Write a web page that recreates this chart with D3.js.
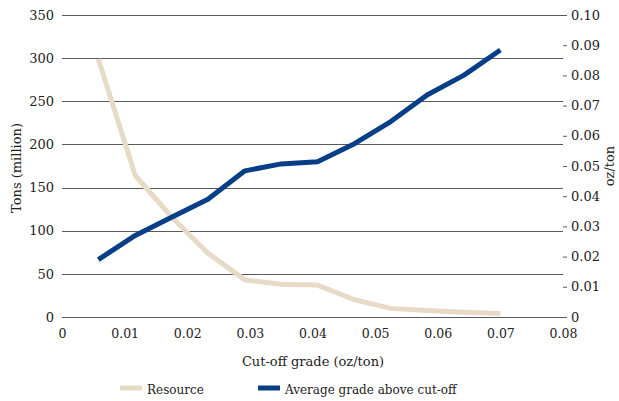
<!DOCTYPE html>
<html><head><meta charset="utf-8">
<script src="https://cdn.jsdelivr.net/npm/d3@7"></script>
<style>
body{margin:0;background:#fff;}
text{font-family:"DejaVu Serif",serif;fill:#222;}
</style></head>
<body><svg id="c" width="619" height="401"></svg>
<script>
const cutoff = [0.0058, 0.0117, 0.0175, 0.0233, 0.0292, 0.035, 0.0408, 0.0467, 0.0525, 0.0583, 0.0642, 0.07];
const resource = [299, 164, 116, 74, 43, 38, 37, 20, 10, 7.5, 5.5, 4];
const avgGrade = [0.019, 0.027, 0.033, 0.039, 0.0484, 0.0507, 0.0514, 0.0574, 0.0647, 0.0735, 0.0801, 0.0884];
const xTicks = [0, 0.01, 0.02, 0.03, 0.04, 0.05, 0.06, 0.07, 0.08];
const leftTicks = [0, 50, 100, 150, 200, 250, 300, 350];
const rightTicks = [0, 0.01, 0.02, 0.03, 0.04, 0.05, 0.06, 0.07, 0.08, 0.09, 0.10];
const seriesNames = ["Resource", "Average grade above cut-off"];
const colors = ["#e7dbc7", "#063f88"];

const svg = d3.select("#c");
const L = 62, R = 563, T = 15, B = 317;
const x = d3.scaleLinear().domain([0, 0.08]).range([L, R]);
const yL = d3.scaleLinear().domain([0, 350]).range([B, T]);
const yR = d3.scaleLinear().domain([0, 0.10]).range([B, T]);

// gridlines
svg.append("g").selectAll("line").data(leftTicks).join("line")
  .attr("x1", L).attr("x2", R)
  .attr("y1", d => Math.round(yL(d)) + 0.5).attr("y2", d => Math.round(yL(d)) + 0.5)
  .attr("stroke", "#5a5a5a").attr("stroke-width", 1);

// left axis
const gl = svg.append("g").attr("transform", `translate(${L},0)`)
  .call(d3.axisLeft(yL).tickValues(leftTicks).tickSize(0).tickPadding(8).tickFormat(d3.format("d")));
gl.select(".domain").remove();
gl.selectAll("text").style("font-size", "13px").style("font-family", '"DejaVu Serif",serif').attr("fill", "#222");

// right axis
const gr = svg.append("g").attr("transform", `translate(${R},0)`)
  .call(d3.axisRight(yR).tickValues(rightTicks).tickSize(4).tickPadding(4)
    .tickFormat(d => d === 0 ? "0" : d3.format(".2f")(d)));
gr.select(".domain").remove();
gr.selectAll("line").attr("stroke", "#5a5a5a");
gr.selectAll("text").style("font-size", "13px").style("font-family", '"DejaVu Serif",serif').attr("fill", "#222");

// bottom axis
const gb = svg.append("g").attr("transform", `translate(0,${B})`)
  .call(d3.axisBottom(x).tickValues(xTicks).tickSize(0).tickPadding(12)
    .tickFormat(d => d === 0 ? "0" : d3.format(".2f")(d)));
gb.select(".domain").remove();
gb.selectAll("text").style("font-size", "12.5px").style("font-family", '"DejaVu Serif",serif').attr("fill", "#222");

// lines
const lineR = d3.line().x((d, i) => x(cutoff[i])).y(d => yL(d));
const lineG = d3.line().x((d, i) => x(cutoff[i])).y(d => yR(d));
svg.append("path").datum(resource).attr("d", lineR)
  .attr("fill", "none").attr("stroke", colors[0]).attr("stroke-width", 5).attr("stroke-linejoin", "round");
svg.append("path").datum(avgGrade).attr("d", lineG)
  .attr("fill", "none").attr("stroke", colors[1]).attr("stroke-width", 5).attr("stroke-linejoin", "round");

// axis titles
svg.append("text").attr("transform", `translate(21,${(T + B) / 2 + 2}) rotate(-90)`)
  .attr("text-anchor", "middle").style("font-size", "13px").text("Tons (million)");
svg.append("text").attr("transform", `translate(614,${(T + B) / 2}) rotate(-90)`)
  .attr("text-anchor", "middle").style("font-size", "13px").text("oz/ton");
svg.append("text").attr("x", (L + R) / 2 + 0.5).attr("y", 366)
  .attr("text-anchor", "middle").style("font-size", "13px").text("Cut-off grade (oz/ton)");

// legend
const legX = [120, 258];
seriesNames.forEach((n, i) => {
  svg.append("rect").attr("x", legX[i]).attr("y", 385.5).attr("width", 22).attr("height", 5).attr("fill", colors[i]);
  svg.append("text").attr("x", legX[i] + 27).attr("y", 393.5).style("font-size", "12px").text(n);
});
</script></body></html>
